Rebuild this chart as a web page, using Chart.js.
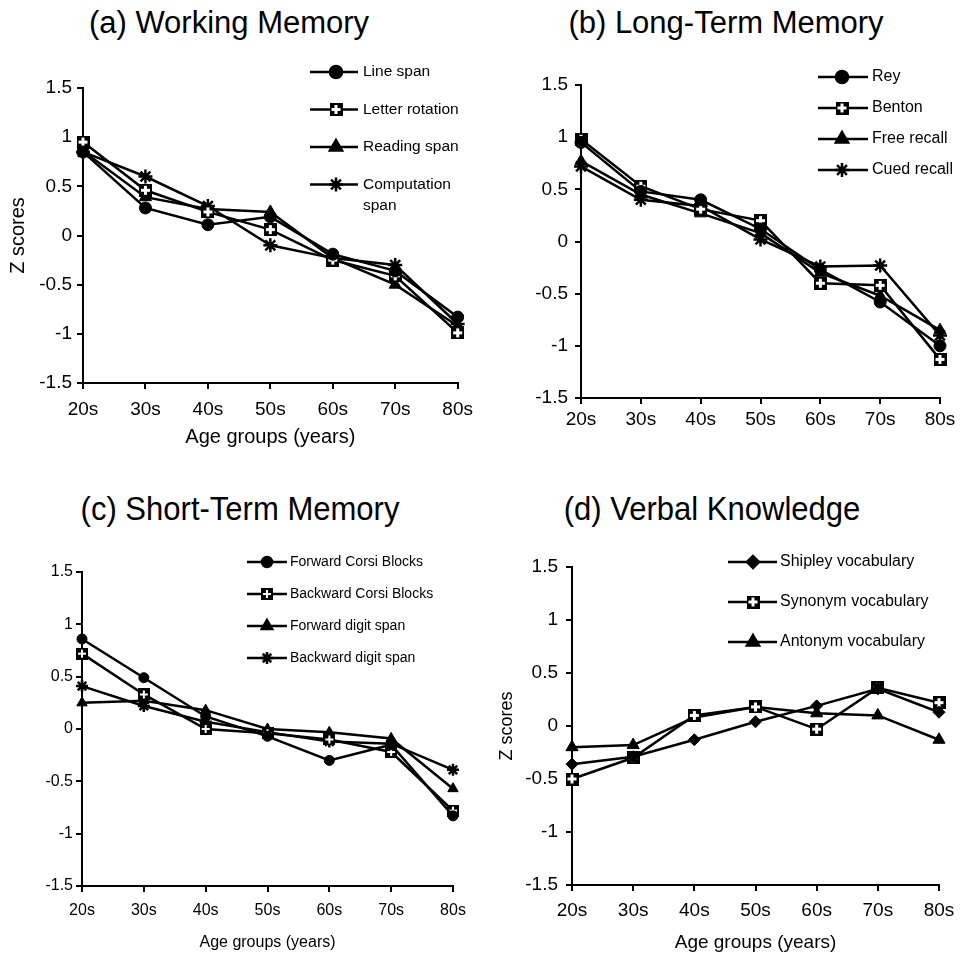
<!DOCTYPE html>
<html>
<head>
<meta charset="utf-8">
<script src="https://cdn.jsdelivr.net/npm/chart.js@4.4.0/dist/chart.umd.min.js"></script>
<style>
  html, body { margin: 0; padding: 0; background: #fff; }
  #page { position: relative; width: 964px; height: 956px; overflow: hidden; font-family: "Liberation Sans", Arial, sans-serif; }
  .panel { position: absolute; }
  .title { position: absolute; font-size: 31px; line-height: 1; color: #000; white-space: nowrap; transform: translateX(-50%); }
  .narrow { font-size: 33px; transform: translateX(-50%) scaleX(0.94); }
</style>
</head>
<body>
<div id="page">
  <div class="title" style="left:229px; top:7px;">(a) Working Memory</div>
  <div class="title" style="left:726px; top:7px;">(b) Long-Term Memory</div>
  <div class="title narrow" style="left:240px; top:492px;">(c) Short-Term Memory</div>
  <div class="title narrow" style="left:712px; top:492px;">(d) Verbal Knowledge</div>
  <canvas id="chartA" class="panel" width="482" height="470" style="left:0; top:0;"></canvas>
  <canvas id="chartB" class="panel" width="482" height="470" style="left:482px; top:0;"></canvas>
  <canvas id="chartC" class="panel" width="482" height="486" style="left:0; top:470px;"></canvas>
  <canvas id="chartD" class="panel" width="482" height="486" style="left:482px; top:470px;"></canvas>
</div>
<script>
// --- Data ---
const AGE_GROUPS = ['20s', '30s', '40s', '50s', '60s', '70s', '80s'];

// (a) Working memory
const lineSpan        = [0.85, 0.28, 0.11, 0.19, -0.19, -0.36, -0.83];
const letterRotation  = [0.95, 0.46, 0.24, 0.06, -0.25, -0.41, -0.99];
const readingSpan     = [0.86, 0.39, 0.27, 0.24, -0.23, -0.50, -0.92];
const computationSpan = [0.85, 0.60, 0.30, -0.10, -0.23, -0.30, -0.90];

// (b) Long-term memory
const rey        = [0.95, 0.48, 0.40, 0.12, -0.27, -0.58, -1.00];
const benton     = [0.98, 0.53, 0.31, 0.20, -0.40, -0.42, -1.13];
const freeRecall = [0.77, 0.45, 0.27, 0.08, -0.30, -0.52, -0.85];
const cuedRecall = [0.72, 0.40, 0.34, 0.02, -0.24, -0.23, -0.90];

// (c) Short-term memory
const fwdCorsi = [0.86, 0.49, 0.12, -0.07, -0.30, -0.15, -0.83];
const bwdCorsi = [0.72, 0.33, 0.00, -0.04, -0.10, -0.22, -0.78];
const fwdDigit = [0.25, 0.27, 0.18, 0.00, -0.03, -0.09, -0.57];
const bwdDigit = [0.41, 0.22, 0.07, -0.03, -0.12, -0.14, -0.39];

// (d) Verbal knowledge
const shipley = [-0.36, -0.29, -0.13, 0.04, 0.19, 0.35, 0.13];
const synonym = [-0.50, -0.30, 0.10, 0.18, -0.03, 0.36, 0.22];
const antonym = [-0.20, -0.18, 0.08, 0.18, 0.12, 0.10, -0.13];

const Y_MIN = -1.5, Y_MAX = 1.5, Y_STEP = 0.5;

// --- Helpers ---
const REG = '"Liberation Sans", Arial, sans-serif';

// black square with a white plus inside, used as a point style
const crossSquare = (size) => {
    const c = document.createElement('canvas');
    c.width = size; c.height = size;
    const g = c.getContext('2d');
    g.fillStyle = '#000';
    g.fillRect(0, 0, size, size);
    g.fillStyle = '#fff';
    const t = Math.max(2, Math.round(size / 5));
    const m = Math.round((size - t) / 2);
    g.fillRect(m, 2, t, size - 4);
    g.fillRect(2, m, size - 4, t);
    return c;
};

const series = (label, data, style, r) => ({
    label: label,
    data: data,
    borderColor: '#000',
    backgroundColor: '#000',
    borderWidth: 2.5,
    tension: 0,
    pointStyle: style,
    pointRadius: style === 'star' ? r + 1 : r,
    pointBorderWidth: style === 'star' ? 2.5 : 1,
    pointBackgroundColor: '#000',
    pointBorderColor: '#000'
});

// legend drawn inside the panel, line + marker + text
const boxLegend = {
    id: 'boxLegend',
    afterDraw(chart, args, opts) {
        const ctx = chart.ctx;
        ctx.save();
        ctx.font = opts.font;
        ctx.textBaseline = 'middle';
        ctx.textAlign = 'left';
        chart.data.datasets.forEach((ds, i) => {
            const y = opts.y + i * opts.dy;
            ctx.strokeStyle = '#000';
            ctx.fillStyle = '#000';
            ctx.lineWidth = 2.5;
            ctx.beginPath();
            ctx.moveTo(opts.x, y);
            ctx.lineTo(opts.x + opts.len, y);
            ctx.stroke();
            Chart.helpers.drawPoint(ctx, {
                pointStyle: ds.pointStyle,
                radius: ds.pointRadius,
                borderWidth: ds.pointBorderWidth,
                rotation: 0
            }, opts.x + opts.mark, y);
            ctx.fillStyle = '#000';
            const lines = Array.isArray(ds.label) ? ds.label : [ds.label];
            lines.forEach((t, k) => ctx.fillText(t, opts.x + opts.len + opts.gap, y + k * opts.lh));
        });
        ctx.restore();
    }
};

const makeChart = (id, datasets, p) => {
    const ctx = document.getElementById(id).getContext('2d');
    return new Chart(ctx, {
        type: 'line',
        data: { labels: AGE_GROUPS, datasets: datasets },
        plugins: [boxLegend],
        options: {
            responsive: false,
            animation: false,
            devicePixelRatio: 1,
            layout: { padding: { left: 0, top: p.top, right: p.right, bottom: 0 } },
            plugins: {
                legend: { display: false },
                title: { display: false },
                tooltip: { enabled: false },
                boxLegend: p.legend
            },
            scales: {
                x: {
                    type: 'category',
                    offset: false,
                    grid: { display: true, drawOnChartArea: false, drawTicks: true, tickLength: 6, color: '#000', lineWidth: 2 },
                    border: { display: true, color: '#000', width: 2 },
                    ticks: { color: '#000', font: p.xFont, padding: p.xPad, maxRotation: 0, autoSkip: false },
                    title: {
                        display: !!p.xTitle,
                        text: 'Age groups (years)',
                        color: '#000',
                        font: p.xTitleFont,
                        padding: { top: 0, bottom: p.xTitlePad || 0 }
                    },
                    afterFit: (s) => { s.height = p.xHeight; }
                },
                y: {
                    min: Y_MIN,
                    max: Y_MAX,
                    grid: { display: true, drawOnChartArea: false, drawTicks: true, tickLength: 6, color: '#000', lineWidth: 2 },
                    border: { display: true, color: '#000', width: 2 },
                    ticks: {
                        stepSize: Y_STEP,
                        color: '#000',
                        font: p.yFont,
                        padding: p.yPad,
                        callback: (v) => String(Math.round(v * 10) / 10)
                    },
                    title: {
                        display: !!p.yTitle,
                        text: 'Z scores',
                        color: '#000',
                        font: p.yTitleFont,
                        padding: { top: p.yTitlePad || 0, bottom: 0 }
                    },
                    afterFit: (s) => { s.width = p.yWidth; }
                }
            }
        }
    });
};

// --- Build panels ---
makeChart('chartA', [
    series('Line span', lineSpan, 'circle', 6),
    series('Letter rotation', letterRotation, crossSquare(13), 6),
    series('Reading span', readingSpan, 'triangle', 7),
    series(['Computation', 'span'], computationSpan, 'star', 6)
], {
    top: 88, right: 18, yWidth: 83, xHeight: 87,
    xFont: { family: REG, size: 19 }, xPad: 9,
    yFont: { family: REG, size: 19 }, yPad: 5,
    xTitle: true, xTitleFont: { family: REG, size: 20 }, xTitlePad: 21,
    yTitle: true, yTitleFont: { family: REG, size: 20 }, yTitlePad: 6,
    legend: { x: 310, y: 72, dy: 37.5, len: 48, mark: 26, gap: 5, lh: 21, font: '15.5px ' + REG }
});

makeChart('chartB', [
    series('Rey', rey, 'circle', 6),
    series('Benton', benton, crossSquare(13), 6),
    series('Free recall', freeRecall, 'triangle', 7),
    series('Cued recall', cuedRecall, 'star', 6)
], {
    top: 85, right: 24, yWidth: 99, xHeight: 72,
    xFont: { family: REG, size: 19 }, xPad: 4,
    yFont: { family: REG, size: 19 }, yPad: 7,
    legend: { x: 336, y: 77, dy: 31, len: 50, mark: 24, gap: 4, lh: 20, font: '16px ' + REG }
});

makeChart('chartC', [
    series('Forward Corsi Blocks', fwdCorsi, 'circle', 5),
    series('Backward Corsi Blocks', bwdCorsi, crossSquare(12), 5),
    series('Forward digit span', fwdDigit, 'triangle', 6),
    series('Backward digit span', bwdDigit, 'star', 5)
], {
    top: 102, right: 29, yWidth: 82, xHeight: 70,
    xFont: { family: REG, size: 16 }, xPad: 9,
    yFont: { family: REG, size: 16 }, yPad: 3,
    xTitle: true, xTitleFont: { family: REG, size: 16 }, xTitlePad: 4,
    legend: { x: 247, y: 92, dy: 32, len: 40, mark: 20, gap: 3, lh: 20, font: '14px ' + REG }
});

makeChart('chartD', [
    series('Shipley vocabulary', shipley, 'rectRot', 6),
    series('Synonym vocabulary', synonym, crossSquare(13), 6),
    series('Antonym vocabulary', antonym, 'triangle', 7)
], {
    top: 97, right: 25, yWidth: 90, xHeight: 71,
    xFont: { family: REG, size: 19 }, xPad: 8,
    yFont: { family: REG, size: 19 }, yPad: 8,
    xTitle: true, xTitleFont: { family: REG, size: 19 }, xTitlePad: 2,
    yTitle: true, yTitleFont: { family: REG, size: 18 }, yTitlePad: 14,
    legend: { x: 246, y: 92, dy: 40, len: 49, mark: 25, gap: 3, lh: 20, font: '16px ' + REG }
});
</script>
</body>
</html>
